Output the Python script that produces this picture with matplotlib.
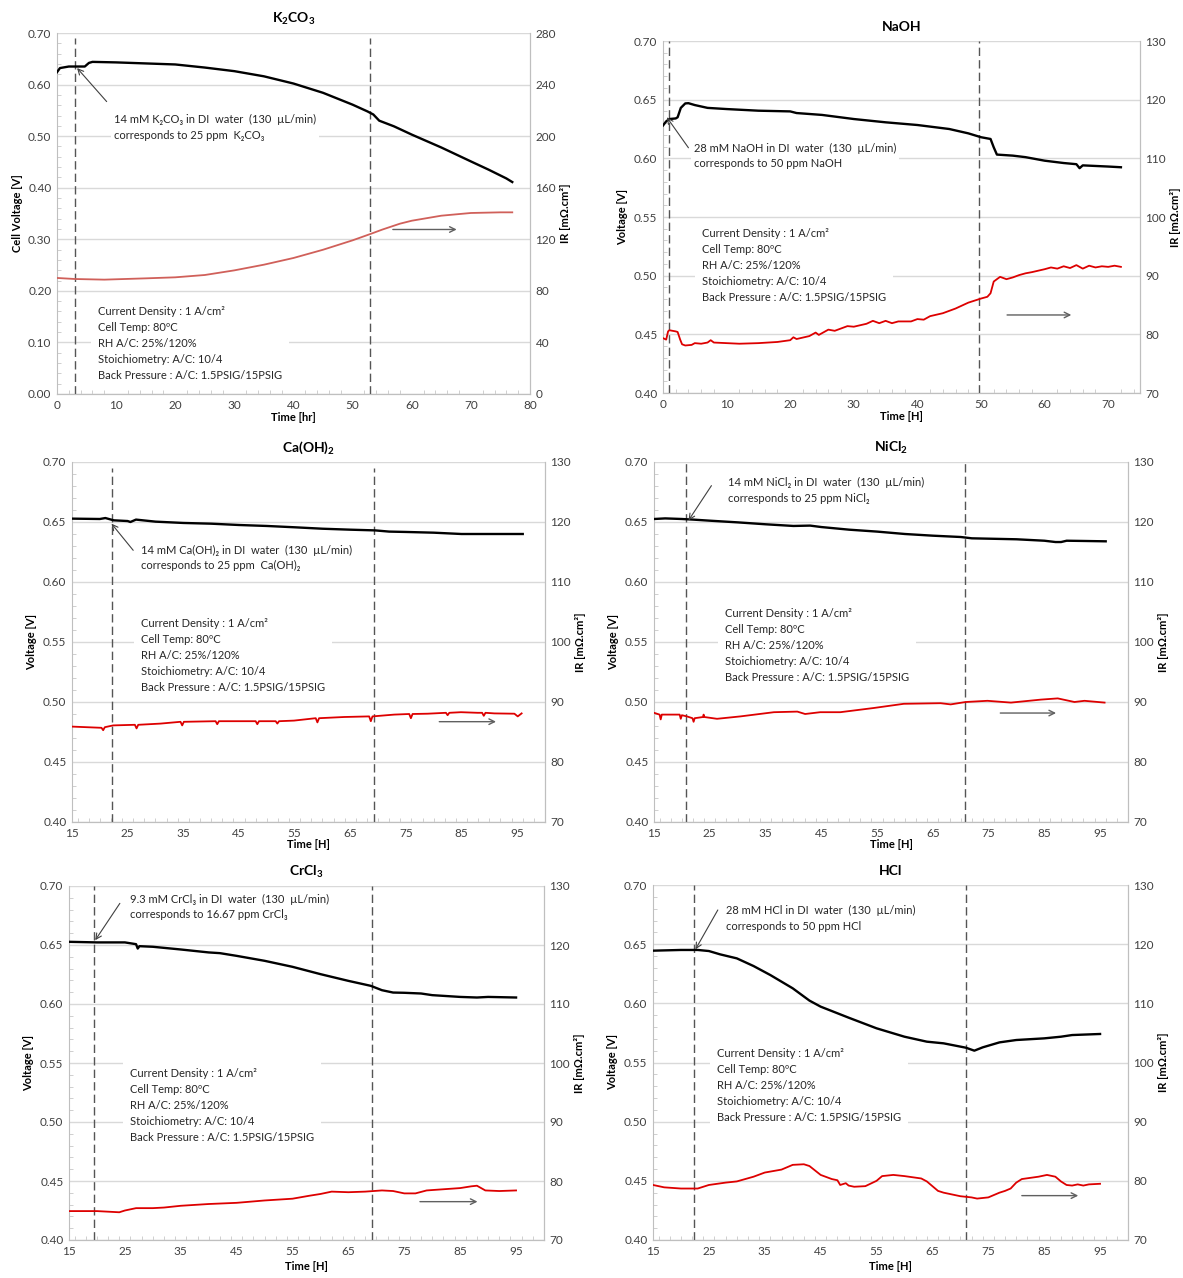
import numpy as np
import matplotlib
matplotlib.use('Agg')
import matplotlib.pyplot as plt
from matplotlib.ticker import MultipleLocator, FormatStrFormatter

plt.rcParams['font.family'] = ['Lato', 'DejaVu Sans']
plt.rcParams['mathtext.fontset'] = 'custom'
plt.rcParams['mathtext.rm'] = 'Lato'
plt.rcParams['mathtext.it'] = 'Lato:italic'
plt.rcParams['mathtext.bf'] = 'Lato:bold'
plt.rcParams['mathtext.default'] = 'rm'

# ---------------- data ----------------
# K2CO3 : time [hr], cell voltage [V], IR [mOhm.cm2]
k2co3_tv = [0, 0.5, 2, 4.7, 5.4, 6, 10, 20, 25, 30, 35, 40, 45, 50, 52.5, 53.5, 54.5, 57, 60, 65, 70, 73, 76, 77]
k2co3_v = [0.624, 0.632, 0.635, 0.635, 0.642, 0.644, 0.643, 0.639, 0.633, 0.626, 0.616, 0.602, 0.584, 0.561,
           0.548, 0.542, 0.530, 0.519, 0.503, 0.478, 0.451, 0.435, 0.418, 0.411]
k2co3_tr = [0, 3, 8, 15, 20, 25, 30, 35, 40, 45, 50, 53, 55, 58, 60, 65, 70, 75, 77]
k2co3_ir = [90.0, 89.2, 88.7, 89.7, 90.5, 92.3, 95.9, 100.3, 105.5, 111.9, 119.2, 124.1, 127.5, 132.1, 134.4,
            138.3, 140.4, 140.9, 140.9]

# NaOH
naoh_tv = [0, 0.5, 1, 2, 2.3, 2.8, 3.5, 4, 5, 7, 10, 15, 20, 21, 25, 30, 35, 40, 45, 48, 50, 51.5, 52, 52.5,
           55, 57, 60, 63, 65, 65.5, 66, 70, 72]
naoh_v = [0.628, 0.6315, 0.6335, 0.634, 0.635, 0.643, 0.6468, 0.647, 0.6454, 0.643, 0.642, 0.6406, 0.640,
          0.6386, 0.637, 0.6335, 0.6307, 0.6284, 0.625, 0.6213, 0.618, 0.6165, 0.6094, 0.6032, 0.6023, 0.601,
          0.598, 0.596, 0.595, 0.5916, 0.594, 0.593, 0.5924]
naoh_tr = [0, 0.5, 0.8, 1, 2, 2.3, 2.7, 3, 3.5, 4.5, 5, 6, 7, 7.5, 8, 10, 12, 15, 18, 20, 20.5, 21, 23, 24,
           24.5, 25, 26, 27, 28, 29, 30, 32, 33, 34, 35, 36, 37, 39, 40, 41, 42, 44, 46, 48, 50, 51, 51.5, 52,
           53, 54, 55, 56, 57, 58, 60, 61, 62, 63, 64, 65, 66, 67, 68, 69, 70, 71, 72]
naoh_ir = [79.35, 79.1, 80.5, 80.7, 80.5, 80.4, 79.1, 78.3, 78.1, 78.2, 78.5, 78.4, 78.6, 79.0, 78.6, 78.5,
           78.4, 78.5, 78.7, 79.0, 79.5, 79.2, 79.7, 80.3, 79.9, 80.2, 80.8, 80.6, 81.0, 81.4, 81.3, 81.8,
           82.3, 81.9, 82.3, 81.9, 82.2, 82.2, 82.6, 82.5, 83.1, 83.6, 84.4, 85.4, 86.1, 86.4, 87.0, 89.0,
           89.8, 89.4, 89.7, 90.1, 90.4, 90.6, 91.1, 91.4, 91.2, 91.6, 91.3, 91.8, 91.2, 91.7, 91.4, 91.6,
           91.5, 91.7, 91.5]

# Ca(OH)2
caoh_tv = [15, 20, 21, 22.5, 25, 25.5, 26.5, 30, 35, 40, 45, 50, 55, 60, 65, 69.5, 72, 75, 80, 85, 90, 96]
caoh_v = [0.6528, 0.6525, 0.6533, 0.6514, 0.6508, 0.650, 0.652, 0.6503, 0.6492, 0.6486, 0.6475, 0.6467,
          0.6456, 0.6444, 0.6436, 0.643, 0.642, 0.6417, 0.6411, 0.640, 0.640, 0.640]
caoh_tr = [15, 20.3, 20.6, 20.9, 22.4, 26.3, 26.6, 26.9, 30.9, 34.5, 34.8, 35.1, 40.8, 41.1, 41.4, 48.0, 48.3,
           48.6, 51.6, 51.9, 52.2, 54.9, 58.8, 59.1, 59.4, 63.9, 68.4, 68.7, 69.0, 72.9, 75.6, 75.9, 76.2,
           78.9, 82.2, 82.5, 82.8, 84.9, 87.9, 88.7, 89.0, 89.3, 90.9, 94.5, 95.1, 95.8]
caoh_ir = [85.9, 85.7, 85.3, 85.8, 86.1, 86.2, 85.6, 86.2, 86.4, 86.7, 86.1, 86.7, 86.8, 86.3, 86.8, 86.8,
           86.3, 86.8, 86.8, 86.4, 86.8, 86.9, 87.3, 86.6, 87.3, 87.5, 87.6, 86.8, 87.6, 87.9, 88.0, 87.3,
           88.0, 88.05, 88.2, 87.8, 88.2, 88.3, 88.2, 88.2, 87.7, 88.2, 88.1, 88.05, 87.6, 88.1]

# NiCl2
nicl_tv = [15, 17, 20, 22, 25, 30, 35, 40, 43, 45, 50, 55, 60, 65, 70, 72, 75, 80, 85, 87, 88, 89, 92, 96]
nicl_v = [0.6525, 0.653, 0.6525, 0.652, 0.6511, 0.6497, 0.6481, 0.6467, 0.647, 0.6458, 0.6436, 0.642, 0.640,
          0.6386, 0.6375, 0.6364, 0.6361, 0.6356, 0.6344, 0.6333, 0.6333, 0.6344, 0.6342, 0.6339]
nicl_tr = [15, 16.0, 16.2, 16.4, 18.5, 19.6, 19.8, 20.0, 20.9, 21.9, 22.1, 22.3, 23.8, 23.9, 24.0, 26.3, 30.5,
           36.5, 40.7, 42.1, 44.8, 48.4, 54.4, 59.8, 66.4, 68.2, 70.9, 74.8, 79.0, 84.4, 87.4, 90.4, 92.2, 95.8]
nicl_ir = [88.2, 87.9, 87.1, 87.9, 87.9, 87.9, 87.2, 87.8, 87.6, 87.3, 86.7, 87.3, 87.5, 87.9, 87.5, 87.2,
           87.6, 88.3, 88.4, 88.0, 88.3, 88.3, 89.0, 89.7, 89.8, 89.6, 90.0, 90.2, 89.9, 90.4, 90.6, 90.0,
           90.2, 89.9]

# CrCl3
crcl_tv = [15, 20, 25, 27, 27.3, 27.6, 30, 35, 40, 42, 45, 50, 55, 60, 65, 69, 71, 73, 75, 78, 80, 85, 88, 90, 95]
crcl_v = [0.6527, 0.6522, 0.6522, 0.6507, 0.647, 0.649, 0.6485, 0.6462, 0.6437, 0.6431, 0.6408, 0.6366,
          0.6315, 0.6253, 0.6196, 0.6154, 0.6117, 0.6097, 0.6095, 0.6089, 0.6075, 0.606, 0.6055, 0.606, 0.6055]
crcl_tr = [15, 20, 24, 25, 27, 30, 32, 35, 40, 45, 50, 55, 58, 60, 62, 65, 68, 71, 73, 75, 77, 79, 82, 85, 87,
           88, 89.5, 92, 95]
crcl_ir = [74.9, 74.9, 74.7, 75.0, 75.4, 75.4, 75.5, 75.8, 76.1, 76.3, 76.7, 77.0, 77.5, 77.8, 78.2, 78.1,
           78.2, 78.4, 78.3, 77.9, 77.9, 78.4, 78.6, 78.8, 79.1, 79.2, 78.4, 78.3, 78.4]

# HCl
hcl_tv = [15, 20, 23, 25, 27, 30, 33, 36, 40, 43, 45, 50, 55, 60, 64, 67, 71, 72.5, 74, 77, 80, 85, 88, 90, 95]
hcl_v = [0.6445, 0.6451, 0.6451, 0.6442, 0.6414, 0.638, 0.6315, 0.6239, 0.6127, 0.6023, 0.5972, 0.5879,
         0.5789, 0.5718, 0.5676, 0.5662, 0.5625, 0.560, 0.5628, 0.567, 0.569, 0.5704, 0.5718, 0.5732, 0.5741]
hcl_tr = [15, 17, 20, 23, 25, 28, 30, 33, 35, 38, 40, 42, 43, 45, 47, 48, 48.5, 49.5, 50, 51, 53, 55, 56, 58,
          60, 63, 64, 66, 67, 70, 72, 73, 75, 77, 78, 79, 80, 81, 84, 85.5, 87, 88, 89, 90, 91, 92, 93, 95]
hcl_ir = [79.3, 78.9, 78.7, 78.7, 79.3, 79.7, 79.9, 80.7, 81.4, 81.9, 82.7, 82.8, 82.5, 81.0, 80.3, 80.1,
          79.3, 79.6, 79.2, 79.0, 79.1, 80.0, 80.8, 81.0, 80.8, 80.4, 79.9, 78.3, 78.0, 77.4, 77.2, 77.0, 77.2,
          78.0, 78.3, 78.7, 79.7, 80.3, 80.7, 81.0, 80.7, 79.9, 79.3, 79.2, 79.4, 79.2, 79.4, 79.5]

info_text = ("Current Density : 1 A/cm²\nCell Temp: 80ºC\nRH A/C: 25%/120%\n"
             "Stoichiometry: A/C: 10/4\nBack Pressure : A/C: 1.5PSIG/15PSIG")

W, H = 1183, 1278
fig = plt.figure(figsize=(W / 100, H / 100), dpi=100)

GRID = '#d9d9d9'
SPINE = '#bfbfbf'
DASH = '#555555'


def px_axes(x0, y0, x1, y1):
    return fig.add_axes([x0 / W, (H - y1) / H, (x1 - x0) / W, (y1 - y0) / H])


def panel(box, title, xlim, xticks, xminor, ylim, ystep, yminor, rlim, rstep,
          tv, v, tr, ir, red, dashes, dash_top, ylab, xlab, note, note_xy, arr_from, arr_to,
          info_xy, small_arrow, xlabpad):
    ax = px_axes(*box)
    ax2 = ax.twinx()
    ax.set_xlim(*xlim)
    ax.set_ylim(*ylim)
    ax2.set_ylim(*rlim)
    ax.set_xticks(xticks)
    ax.xaxis.set_minor_locator(MultipleLocator(xminor))
    ax.yaxis.set_major_locator(MultipleLocator(ystep))
    ax.yaxis.set_minor_locator(MultipleLocator(yminor))
    ax.yaxis.set_major_formatter(FormatStrFormatter('%.2f'))
    ax2.yaxis.set_major_locator(MultipleLocator(rstep))
    ax.yaxis.grid(True, color=GRID, lw=1.0)
    ax.set_axisbelow(True)
    for a in (ax, ax2):
        a.spines['top'].set_visible(False)
        for s in ('left', 'right', 'bottom'):
            a.spines[s].set_color(SPINE)
        a.tick_params(which='major', length=0, labelsize=8.5, colors='#404040', pad=4)
        a.tick_params(which='minor', direction='in', length=3, color='#c8c8c8')
    ax2.spines['left'].set_visible(False)

    ax.plot(tv, v, color='black', lw=1.7, zorder=4)
    ax2.plot(tr, ir, color=red, lw=1.3, zorder=4)
    for d in dashes:
        ax.plot([d, d], [ylim[0], dash_top], color=DASH, lw=1.0, ls=(0, (6, 3)), zorder=3)

    ax.set_title(title, fontsize=10, fontweight='bold', pad=7)
    ax.set_ylabel(ylab, fontsize=8, fontweight='bold', labelpad=4)
    ax2.set_ylabel('IR [mΩ.cm²]', fontsize=8, fontweight='bold', labelpad=3)
    ax.set_xlabel(xlab, fontsize=8, fontweight='bold', labelpad=xlabpad)

    ax.text(note_xy[0], note_xy[1], note, fontsize=8, color='#262626', va='top', ha='left',
            linespacing=1.5, zorder=5, bbox=dict(fc='white', ec='none', pad=2))
    ax.annotate('', xy=arr_to, xytext=arr_from, zorder=6,
                arrowprops=dict(arrowstyle='->', color='#404040', lw=0.8, shrinkA=0, shrinkB=0))
    ax.text(info_xy[0], info_xy[1], info_text, fontsize=8, color='#262626', va='top', ha='left',
            linespacing=1.55, zorder=5, bbox=dict(fc='white', ec='none', pad=5))
    ax.annotate('', xy=(small_arrow[1], small_arrow[2]), xytext=(small_arrow[0], small_arrow[2]),
                zorder=6, arrowprops=dict(arrowstyle='->', color='#606060', lw=1.0, shrinkA=0, shrinkB=0))
    return ax, ax2


ticks_a = [15, 25, 35, 45, 55, 65, 75, 85, 95]

panel((57, 33, 530, 394), r'$\mathbf{K_2CO_3}$', (0, 80), list(range(0, 81, 10)), 2,
      (0, 0.7), 0.1, 0.02, (0, 280), 40,
      k2co3_tv, k2co3_v, k2co3_tr, k2co3_ir, '#d0605a', [3, 53], 0.69,
      'Cell Voltage [V]', 'Time [hr]',
      '14 mM K₂CO₃ in DI  water  (130  µL/min)\ncorresponds to 25 ppm  K₂CO₃',
      (9.6, 0.543), (8.4, 0.567), (3.4, 0.632), (7.0, 0.170), (56.8, 67.6, 0.319), 1)

panel((663, 41, 1140, 393), 'NaOH', (0, 75), list(range(0, 71, 10)), 2,
      (0.4, 0.7), 0.05, 0.01, (70, 130), 10,
      naoh_tv, naoh_v, naoh_tr, naoh_ir, '#dd0000', [1, 49.7], 0.70,
      'Voltage [V]', 'Time [H]',
      '28 mM NaOH in DI  water  (130  µL/min)\ncorresponds to 50 ppm NaOH',
      (4.9, 0.6135), (4.0, 0.609), (0.6, 0.635), (6.1, 0.5405), (54.1, 64.2, 0.4665), 1)

panel((72, 462, 545, 822), r'$\mathbf{Ca(OH)_2}$', (15, 100), ticks_a, 2,
      (0.4, 0.7), 0.05, 0.01, (70, 130), 10,
      caoh_tv, caoh_v, caoh_tr, caoh_ir, '#dd0000', [22.1, 69.3], 0.695,
      'Voltage [V]', 'Time [H]',
      '14 mM Ca(OH)₂ in DI  water  (130  µL/min)\ncorresponds to 25 ppm  Ca(OH)₂',
      (27.4, 0.631), (26.0, 0.6264), (22.1, 0.6486), (27.4, 0.570), (81, 91.2, 0.4836), 0)

panel((654, 462, 1128, 822), r'$\mathbf{NiCl_2}$', (15, 100), ticks_a, 2,
      (0.4, 0.7), 0.05, 0.01, (70, 130), 10,
      nicl_tv, nicl_v, nicl_tr, nicl_ir, '#dd0000', [20.8, 70.7], 0.70,
      'Voltage [V]', 'Time [H]',
      '14 mM NiCl₂ in DI  water  (130  µL/min)\ncorresponds to 25 ppm NiCl₂',
      (28.2, 0.6875), (25.3, 0.6803), (21.2, 0.6514), (27.7, 0.578), (77.1, 87.1, 0.4908), 0)

panel((69, 886, 544, 1240), r'$\mathbf{CrCl_3}$', (15, 100), ticks_a, 2,
      (0.4, 0.7), 0.05, 0.01, (70, 130), 10,
      crcl_tv, crcl_v, crcl_tr, crcl_ir, '#dd0000', [19.4, 69.2], 0.70,
      'Voltage [V]', 'Time [H]',
      '9.3 mM CrCl₃ in DI  water  (130  µL/min)\ncorresponds to 16.67 ppm CrCl₃',
      (25.9, 0.6935), (24.1, 0.6853), (19.7, 0.6541), (25.9, 0.546), (77.8, 88.1, 0.4325), 3)

panel((653, 885, 1128, 1240), 'HCl', (15, 100), ticks_a, 2,
      (0.4, 0.7), 0.05, 0.01, (70, 130), 10,
      hcl_tv, hcl_v, hcl_tr, hcl_ir, '#dd0000', [22.4, 71.0], 0.70,
      'Voltage [V]', 'Time [H]',
      '28 mM HCl in DI  water  (130  µL/min)\ncorresponds to 50 ppm HCl',
      (28.0, 0.683), (26.6, 0.6789), (22.6, 0.6456), (26.5, 0.562), (81, 91.1, 0.4375), 3)

fig.savefig('out.png', dpi=100)
